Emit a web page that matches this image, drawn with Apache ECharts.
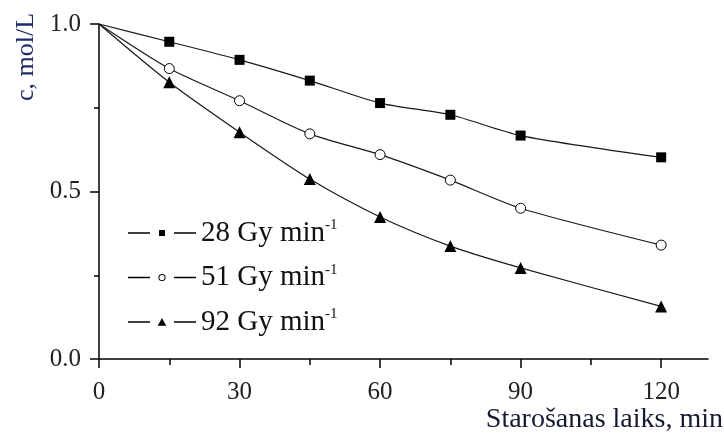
<!DOCTYPE html>
<html>
<head>
<meta charset="utf-8">
<script src="https://cdn.jsdelivr.net/npm/echarts@6/dist/echarts.min.js"></script>
<style>html,body{margin:0;padding:0;background:#fff}#c{width:724px;height:441px}</style>
</head>
<body>
<div id="c"></div>
<script>
const times = [0, 15, 30, 45, 60, 75, 90, 120];
const c28 = [1.0, 0.947, 0.893, 0.831, 0.764, 0.729, 0.667, 0.602];
const c51 = [1.0, 0.867, 0.771, 0.672, 0.610, 0.534, 0.450, 0.340];
const c92 = [1.0, 0.826, 0.677, 0.537, 0.424, 0.337, 0.272, 0.157];
const seriesNames = ['28 Gy min', '51 Gy min', '92 Gy min'];
const xMajorTicks = [0, 30, 60, 90, 120];
const xMinorTicks = [15, 45, 75, 105];
const yTitle = 'c, mol/L';
const xTitle = 'Starošanas laiks, min';

const FONT = "'Liberation Serif', 'Times New Roman', serif";
// the starting point (t = 0) is drawn without a marker, as in the reference
const zip = arr => times.map((t, i) => i === 0 ? {value: [t, arr[i]], symbol: 'none'} : [t, arr[i]]);

// legend icons: dash - gap - marker - gap - dash (bounding box 68 x 9 fixed by the two leading moveTo's)
const DASHES = 'M0 0M68 9M0 3.7L22 3.7L22 5.3L0 5.3ZM46 3.7L68 3.7L68 5.3L46 5.3Z';
const iconSquare = 'path://' + DASHES + 'M31 1.5L37 1.5L37 7.5L31 7.5Z';
const iconCircle = 'path://' + DASHES + 'M30.4 4.5A3.6 3.6 0 1 0 37.6 4.5A3.6 3.6 0 1 0 30.4 4.5ZM31.4 4.5A2.6 2.6 0 1 1 36.6 4.5A2.6 2.6 0 1 1 31.4 4.5Z';
const iconTri = 'path://' + DASHES + 'M34 0.5L38.3 8.3L29.7 8.3Z';

const chart = echarts.init(document.getElementById('c'), null, {renderer: 'canvas'});
const lineCol = '#1a1a1a';
function mkSeries(name, data, symbol, size, fill) {
  return {
    name: name, type: 'line', data: zip(data), smooth: 0.25,
    symbol: symbol, symbolSize: size, showSymbol: true,
    lineStyle: {color: lineCol, width: 1.2},
    itemStyle: {color: fill, borderColor: '#000', borderWidth: fill === '#fff' ? 1 : 0},
    emphasis: {disabled: true}, animation: false, z: 3
  };
}
const legendItem = (name, icon) => ({name: name, icon: icon, itemStyle: {color: '#000', borderWidth: 0, opacity: 1}});
chart.setOption({
  animation: false,
  backgroundColor: '#fff',
  grid: {left: 99, right: 16, top: 24, bottom: 82, containLabel: false},
  legend: {
    left: 128, top: 218, orient: 'vertical', padding: 0,
    itemWidth: 68, itemHeight: 9, itemGap: 15,
    data: [legendItem(seriesNames[0], iconSquare), legendItem(seriesNames[1], iconCircle), legendItem(seriesNames[2], iconTri)],
    formatter: n => '{a|' + n + '}{s|-1}',
    textStyle: {
      fontFamily: FONT, color: '#111',
      rich: {
        a: {fontFamily: FONT, fontSize: 29, lineHeight: 30, color: '#111'},
        s: {fontFamily: FONT, fontSize: 15, lineHeight: 15, verticalAlign: 'top', color: '#111'}
      }
    }
  },
  xAxis: [{
    type: 'value', min: 0, max: 130, position: 'bottom',
    axisLine: {show: true, lineStyle: {color: '#000', width: 1.5}},
    axisTick: {show: true, customValues: xMajorTicks, length: 9, inside: false, lineStyle: {color: '#000', width: 1.5}},
    axisLabel: {show: true, customValues: xMajorTicks, margin: 21, fontFamily: FONT, fontSize: 25, color: '#222'},
    splitLine: {show: false}
  }, {
    type: 'value', min: 0, max: 130, position: 'bottom',
    axisLine: {show: false},
    axisTick: {show: true, customValues: xMinorTicks, length: 6, lineStyle: {color: '#000', width: 1.5}},
    axisLabel: {show: false},
    splitLine: {show: false}
  }],
  yAxis: {
    type: 'value', min: 0, max: 1, interval: 0.5,
    axisLine: {show: true, lineStyle: {color: '#000', width: 1.5}},
    axisTick: {show: true, length: 9, lineStyle: {color: '#000', width: 1.5}},
    minorTick: {show: true, splitNumber: 2, length: 5, lineStyle: {color: '#000', width: 1.5}},
    axisLabel: {margin: 18, fontFamily: FONT, fontSize: 25, color: '#222', formatter: v => v.toFixed(1)},
    splitLine: {show: false}, minorSplitLine: {show: false}
  },
  series: [
    mkSeries(seriesNames[0], c28, 'rect', 10, '#000'),
    mkSeries(seriesNames[1], c51, 'circle', 10, '#fff'),
    mkSeries(seriesNames[2], c92, 'triangle', 12, '#000')
  ],
  graphic: [{
    type: 'text', x: 26, y: 57, rotation: Math.PI / 2,
    style: {text: yTitle, fontFamily: FONT, fontSize: 26, fill: '#1d2b66', align: 'center', verticalAlign: 'middle'}
  }, {
    type: 'text', x: 723, y: 420,
    style: {text: xTitle, fontFamily: FONT, fontSize: 28, fill: '#151a30', align: 'right', verticalAlign: 'middle'}
  }]
});
</script>
</body>
</html>
